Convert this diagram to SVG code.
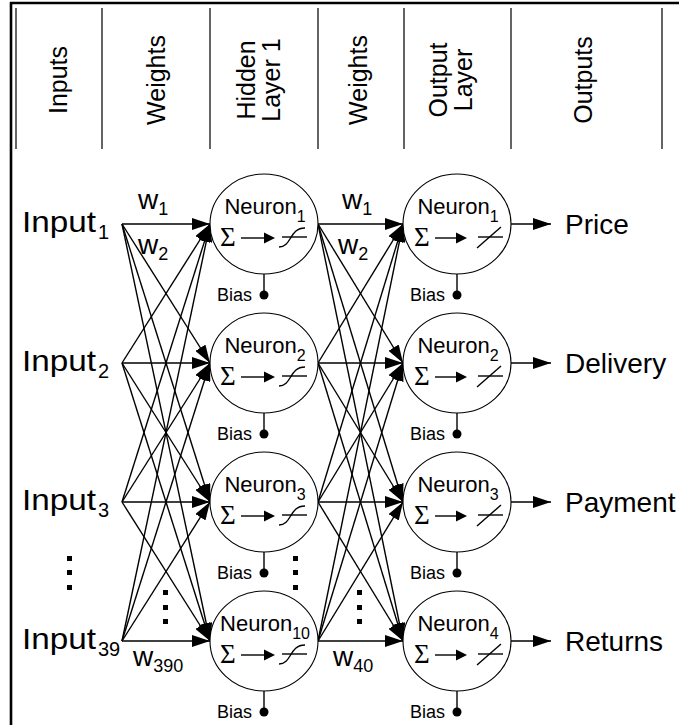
<svg xmlns="http://www.w3.org/2000/svg" width="679" height="725" viewBox="0 0 679 725">
<defs>
<marker id="ah" markerUnits="userSpaceOnUse" markerWidth="18" markerHeight="12" refX="18" refY="6" orient="auto">
<path d="M0,0 L18,6 L0,12 Z" fill="#000"/>
</marker>
<style>
.t{font-family:"Liberation Sans",Arial,sans-serif;fill:#000}
.hd{font-size:25px;text-anchor:middle}
.lbl{font-size:30px}
.lsub{font-size:20px}
.out{font-size:28px}
.nt{font-size:22px;text-anchor:middle}
.nsub{font-size:16px}
.sig{font-family:"Liberation Serif","Times New Roman",serif;font-size:27px}
.bias{font-size:18px;text-anchor:end}
.w{font-size:28px}
.sub{font-size:18px}
.cn line{stroke:#000;stroke-width:1.4;marker-end:url(#ah)}
.cell{fill:#fff;stroke:#000;stroke-width:1.1}
.sym{stroke:#000;stroke-width:1.4;fill:none}
.div{stroke:#111;stroke-width:1.3}
.dot{fill:#000}
</style>
</defs>
<rect width="679" height="725" fill="#fff"/>
<g id="frame">
<line x1="10" y1="3" x2="679" y2="3" stroke="#000" stroke-width="2.6"/>
<line x1="11" y1="2" x2="11" y2="725" stroke="#000" stroke-width="2.6"/>
<line class="div" x1="16" y1="8" x2="16" y2="149"/>
<line class="div" x1="102" y1="8" x2="102" y2="149"/>
<line class="div" x1="210" y1="8" x2="210" y2="149"/>
<line class="div" x1="318" y1="8" x2="318" y2="149"/>
<line class="div" x1="404" y1="8" x2="404" y2="149"/>
<line class="div" x1="511" y1="8" x2="511" y2="149"/>
<line class="div" x1="662" y1="8" x2="662" y2="149"/>
</g>
<g id="header">
<text class="t hd" transform="translate(67,80) rotate(-90)">Inputs</text>
<text class="t hd" transform="translate(165,80) rotate(-90)">Weights</text>
<text class="t hd" transform="translate(255,80) rotate(-90)">Hidden</text>
<text class="t hd" transform="translate(280,80) rotate(-90)">Layer 1</text>
<text class="t hd" transform="translate(367,80) rotate(-90)">Weights</text>
<text class="t hd" transform="translate(447,80) rotate(-90)">Output</text>
<text class="t hd" transform="translate(472,80) rotate(-90)">Layer</text>
<text class="t hd" transform="translate(592,80) rotate(-90)">Outputs</text>
</g>
<g id="connectors" class="cn">
<line x1="122" y1="224" x2="210" y2="224"/>
<line x1="122" y1="224" x2="210" y2="363"/>
<line x1="122" y1="224" x2="210" y2="502"/>
<line x1="122" y1="224" x2="210" y2="641"/>
<line x1="122" y1="363" x2="210" y2="224"/>
<line x1="122" y1="363" x2="210" y2="363"/>
<line x1="122" y1="363" x2="210" y2="502"/>
<line x1="122" y1="363" x2="210" y2="641"/>
<line x1="122" y1="502" x2="210" y2="224"/>
<line x1="122" y1="502" x2="210" y2="363"/>
<line x1="122" y1="502" x2="210" y2="502"/>
<line x1="122" y1="502" x2="210" y2="641"/>
<line x1="122" y1="641" x2="210" y2="224"/>
<line x1="122" y1="641" x2="210" y2="363"/>
<line x1="122" y1="641" x2="210" y2="502"/>
<line x1="122" y1="641" x2="210" y2="641"/>
<line x1="318" y1="224" x2="403" y2="224"/>
<line x1="318" y1="224" x2="403" y2="363"/>
<line x1="318" y1="224" x2="403" y2="502"/>
<line x1="318" y1="224" x2="403" y2="641"/>
<line x1="318" y1="363" x2="403" y2="224"/>
<line x1="318" y1="363" x2="403" y2="363"/>
<line x1="318" y1="363" x2="403" y2="502"/>
<line x1="318" y1="363" x2="403" y2="641"/>
<line x1="318" y1="502" x2="403" y2="224"/>
<line x1="318" y1="502" x2="403" y2="363"/>
<line x1="318" y1="502" x2="403" y2="502"/>
<line x1="318" y1="502" x2="403" y2="641"/>
<line x1="318" y1="641" x2="403" y2="224"/>
<line x1="318" y1="641" x2="403" y2="363"/>
<line x1="318" y1="641" x2="403" y2="502"/>
<line x1="318" y1="641" x2="403" y2="641"/>
<line x1="511" y1="224" x2="551" y2="224"/>
<line x1="511" y1="363" x2="551" y2="363"/>
<line x1="511" y1="502" x2="551" y2="502"/>
<line x1="511" y1="641" x2="551" y2="641"/>
</g>
<g id="input1">
<text class="t lbl" x="22" y="232" textLength="74" lengthAdjust="spacingAndGlyphs">Input</text>
<text class="t lsub" x="98" y="239">1</text>
</g>
<g id="input2">
<text class="t lbl" x="22" y="371" textLength="74" lengthAdjust="spacingAndGlyphs">Input</text>
<text class="t lsub" x="98" y="378">2</text>
</g>
<g id="input3">
<text class="t lbl" x="22" y="510" textLength="74" lengthAdjust="spacingAndGlyphs">Input</text>
<text class="t lsub" x="98" y="517">3</text>
</g>
<g id="input39">
<text class="t lbl" x="22" y="649" textLength="74" lengthAdjust="spacingAndGlyphs">Input</text>
<text class="t lsub" x="98" y="656">39</text>
</g>
<g id="weights">
<text class="t w" x="138" y="209">w<tspan class="sub" dy="6">1</tspan></text>
<text class="t w" x="138" y="254">w<tspan class="sub" dy="6">2</tspan></text>
<text class="t w" x="133" y="666">w<tspan class="sub" dy="6">390</tspan></text>
<text class="t w" x="342" y="209">w<tspan class="sub" dy="6">1</tspan></text>
<text class="t w" x="338" y="254">w<tspan class="sub" dy="6">2</tspan></text>
<text class="t w" x="333" y="666">w<tspan class="sub" dy="6">40</tspan></text>
</g>
<g id="ellipsis">
<rect class="dot" x="67" y="556" width="5" height="5"/>
<rect class="dot" x="67" y="570" width="5" height="5"/>
<rect class="dot" x="67" y="585" width="5" height="5"/>
<rect class="dot" x="163" y="590" width="5" height="5"/>
<rect class="dot" x="163" y="605" width="5" height="5"/>
<rect class="dot" x="163" y="619" width="5" height="5"/>
<rect class="dot" x="293" y="556" width="5" height="5"/>
<rect class="dot" x="293" y="570" width="5" height="5"/>
<rect class="dot" x="293" y="585" width="5" height="5"/>
<rect class="dot" x="357" y="590" width="5" height="5"/>
<rect class="dot" x="357" y="605" width="5" height="5"/>
<rect class="dot" x="357" y="619" width="5" height="5"/>
</g>
<g id="h1">
<ellipse class="cell" cx="264" cy="224" rx="54" ry="50"/>
<text class="t nt" x="265" y="214">Neuron<tspan class="nsub" dy="8">1</tspan></text>
<text class="sig" x="220" y="246">Σ</text>
<line class="sym" x1="241" y1="238" x2="266" y2="238"/>
<path d="M264,232.5 L275,238 L264,243.5 Z"/>
<line class="sym" x1="282" y1="237" x2="307" y2="237"/>
<path class="sym" d="M279,247 C292,247 289,228 305,228"/>
<line class="sym" x1="264" y1="274" x2="264" y2="295"/>
<circle cx="264" cy="295" r="4.5"/>
<text class="t bias" x="252" y="301">Bias</text>
</g>
<g id="h2">
<ellipse class="cell" cx="264" cy="363" rx="54" ry="50"/>
<text class="t nt" x="265" y="353">Neuron<tspan class="nsub" dy="8">2</tspan></text>
<text class="sig" x="220" y="385">Σ</text>
<line class="sym" x1="241" y1="377" x2="266" y2="377"/>
<path d="M264,371.5 L275,377 L264,382.5 Z"/>
<line class="sym" x1="282" y1="376" x2="307" y2="376"/>
<path class="sym" d="M279,386 C292,386 289,367 305,367"/>
<line class="sym" x1="264" y1="413" x2="264" y2="434"/>
<circle cx="264" cy="434" r="4.5"/>
<text class="t bias" x="252" y="440">Bias</text>
</g>
<g id="h3">
<ellipse class="cell" cx="264" cy="502" rx="54" ry="50"/>
<text class="t nt" x="265" y="492">Neuron<tspan class="nsub" dy="8">3</tspan></text>
<text class="sig" x="220" y="524">Σ</text>
<line class="sym" x1="241" y1="516" x2="266" y2="516"/>
<path d="M264,510.5 L275,516 L264,521.5 Z"/>
<line class="sym" x1="282" y1="515" x2="307" y2="515"/>
<path class="sym" d="M279,525 C292,525 289,506 305,506"/>
<line class="sym" x1="264" y1="552" x2="264" y2="573"/>
<circle cx="264" cy="573" r="4.5"/>
<text class="t bias" x="252" y="579">Bias</text>
</g>
<g id="h10">
<ellipse class="cell" cx="264" cy="641" rx="54" ry="50"/>
<text class="t nt" x="265" y="631">Neuron<tspan class="nsub" dy="8">10</tspan></text>
<text class="sig" x="220" y="663">Σ</text>
<line class="sym" x1="241" y1="655" x2="266" y2="655"/>
<path d="M264,649.5 L275,655 L264,660.5 Z"/>
<line class="sym" x1="282" y1="654" x2="307" y2="654"/>
<path class="sym" d="M279,664 C292,664 289,645 305,645"/>
<line class="sym" x1="264" y1="691" x2="264" y2="712"/>
<circle cx="264" cy="712" r="4.5"/>
<text class="t bias" x="252" y="718">Bias</text>
</g>
<g id="o1">
<ellipse class="cell" cx="457" cy="224" rx="54" ry="50"/>
<text class="t nt" x="458" y="214">Neuron<tspan class="nsub" dy="8">1</tspan></text>
<text class="sig" x="414" y="246">Σ</text>
<line class="sym" x1="435" y1="238" x2="458" y2="238"/>
<path d="M456,232.5 L467,238 L456,243.5 Z"/>
<line class="sym" x1="478" y1="237" x2="503" y2="237"/>
<line class="sym" x1="477" y1="248" x2="501" y2="227"/>
<line class="sym" x1="457" y1="274" x2="457" y2="295"/>
<circle cx="457" cy="295" r="4.5"/>
<text class="t bias" x="445" y="301">Bias</text>
</g>
<g id="o2">
<ellipse class="cell" cx="457" cy="363" rx="54" ry="50"/>
<text class="t nt" x="458" y="353">Neuron<tspan class="nsub" dy="8">2</tspan></text>
<text class="sig" x="414" y="385">Σ</text>
<line class="sym" x1="435" y1="377" x2="458" y2="377"/>
<path d="M456,371.5 L467,377 L456,382.5 Z"/>
<line class="sym" x1="478" y1="376" x2="503" y2="376"/>
<line class="sym" x1="477" y1="387" x2="501" y2="366"/>
<line class="sym" x1="457" y1="413" x2="457" y2="434"/>
<circle cx="457" cy="434" r="4.5"/>
<text class="t bias" x="445" y="440">Bias</text>
</g>
<g id="o3">
<ellipse class="cell" cx="457" cy="502" rx="54" ry="50"/>
<text class="t nt" x="458" y="492">Neuron<tspan class="nsub" dy="8">3</tspan></text>
<text class="sig" x="414" y="524">Σ</text>
<line class="sym" x1="435" y1="516" x2="458" y2="516"/>
<path d="M456,510.5 L467,516 L456,521.5 Z"/>
<line class="sym" x1="478" y1="515" x2="503" y2="515"/>
<line class="sym" x1="477" y1="526" x2="501" y2="505"/>
<line class="sym" x1="457" y1="552" x2="457" y2="573"/>
<circle cx="457" cy="573" r="4.5"/>
<text class="t bias" x="445" y="579">Bias</text>
</g>
<g id="o4">
<ellipse class="cell" cx="457" cy="641" rx="54" ry="50"/>
<text class="t nt" x="458" y="631">Neuron<tspan class="nsub" dy="8">4</tspan></text>
<text class="sig" x="414" y="663">Σ</text>
<line class="sym" x1="435" y1="655" x2="458" y2="655"/>
<path d="M456,649.5 L467,655 L456,660.5 Z"/>
<line class="sym" x1="478" y1="654" x2="503" y2="654"/>
<line class="sym" x1="477" y1="665" x2="501" y2="644"/>
<line class="sym" x1="457" y1="691" x2="457" y2="712"/>
<circle cx="457" cy="712" r="4.5"/>
<text class="t bias" x="445" y="718">Bias</text>
</g>
<g id="outputs">
<text class="t out" x="565" y="234">Price</text>
<text class="t out" x="565" y="373">Delivery</text>
<text class="t out" x="565" y="512">Payment</text>
<text class="t out" x="565" y="651">Returns</text>
</g>
</svg>
